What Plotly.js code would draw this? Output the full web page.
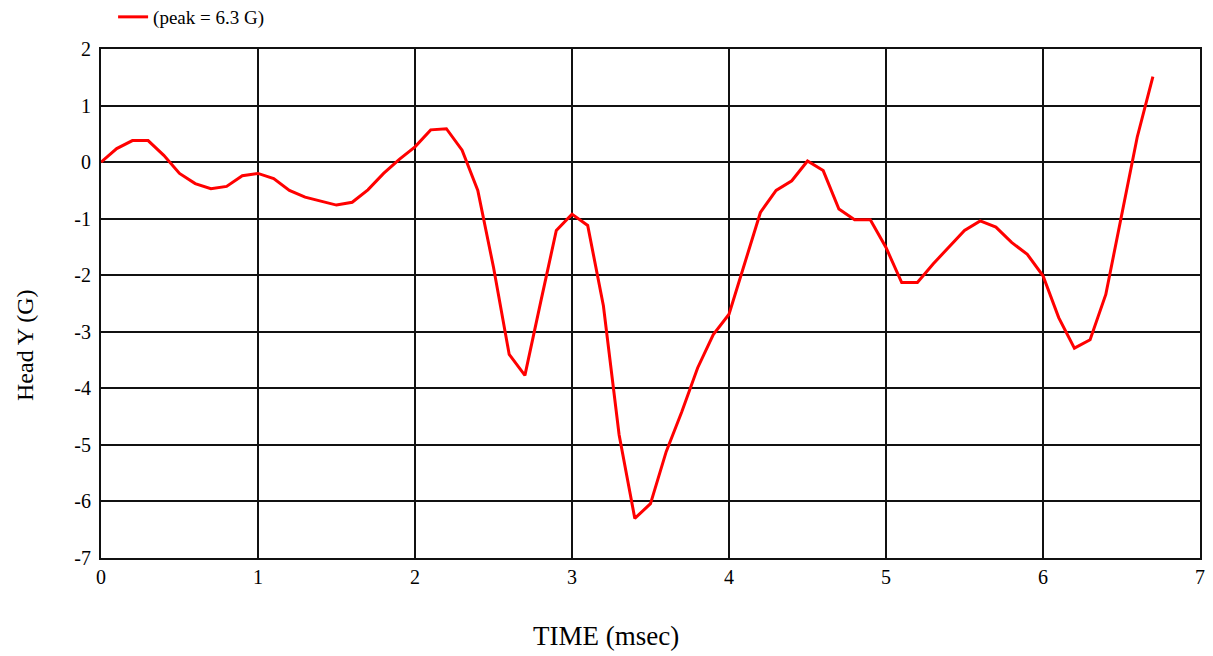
<!DOCTYPE html>
<html>
<head>
<meta charset="utf-8">
<script src="https://cdn.plot.ly/plotly-3.0.1.min.js"></script>
<style>html,body{margin:0;padding:0;background:#fff;}#chart{width:1213px;height:656px;}</style>
</head>
<body>
<div id="chart"></div>
<script>
const timeMs = [0.0,0.1,0.2,0.3,0.4,0.5,0.6,0.7,0.8,0.9,1.0,1.1,1.2,1.3,1.4,1.5,1.6,1.7,1.8,1.9,2.0,2.1,2.2,2.3,2.4,2.5,2.6,2.7,2.8,2.9,3.0,3.1,3.2,3.3,3.4,3.5,3.6,3.7,3.8,3.9,4.0,4.1,4.2,4.3,4.4,4.5,4.6,4.7,4.8,4.9,5.0,5.1,5.2,5.3,5.4,5.5,5.6,5.7,5.8,5.9,6.0,6.1,6.2,6.3,6.4,6.5,6.6,6.7];
const headY = [0.0,0.24,0.38,0.38,0.12,-0.2,-0.38,-0.47,-0.43,-0.24,-0.2,-0.29,-0.5,-0.62,-0.69,-0.76,-0.71,-0.49,-0.2,0.05,0.27,0.57,0.59,0.21,-0.5,-1.86,-3.4,-3.77,-2.48,-1.21,-0.92,-1.12,-2.54,-4.82,-6.3,-6.04,-5.12,-4.41,-3.64,-3.05,-2.69,-1.8,-0.89,-0.5,-0.33,0.02,-0.15,-0.83,-1.02,-1.02,-1.51,-2.13,-2.13,-1.8,-1.51,-1.21,-1.04,-1.15,-1.42,-1.63,-2.01,-2.75,-3.29,-3.14,-2.34,-0.98,0.44,1.51];
const seriesName = '(peak = 6.3 G)';
const xTicks = [0,1,2,3,4,5,6,7];
const yTicks = [2,1,0,-1,-2,-3,-4,-5,-6,-7];
const xTitle = 'TIME (msec)';
const yTitle = 'Head Y (G)';

const font = 'Liberation Serif, Times New Roman, serif';

Plotly.newPlot('chart', [{
  x: timeMs, y: headY, type: 'scatter', mode: 'lines', name: seriesName,
  line: {color: '#ff0000', width: 3}
}], {
  width: 1213, height: 656,
  margin: {l: 101, r: 13, t: 49, b: 98, autoexpand: false},
  paper_bgcolor: '#fff', plot_bgcolor: '#fff',
  font: {family: font, color: '#000', size: 19},
  showlegend: true,
  legend: {x: 0.011, y: (558-17)/509, xanchor: 'left', yanchor: 'middle', orientation: 'h',
           font: {family: font, size: 19, color: '#000'}, bgcolor: 'rgba(0,0,0,0)', borderwidth: 0},
  xaxis: {range: [0, 7], tickvals: xTicks, ticktext: xTicks.map(String), showgrid: true,
          gridcolor: '#111', gridwidth: 2, zeroline: false, showline: true, linecolor: '#111',
          linewidth: 2, mirror: true, ticks: '', automargin: false, tickfont: {family: font, size: 20, color: '#000'}},
  yaxis: {range: [-7, 2], tickvals: yTicks, ticktext: yTicks.map(String), showgrid: true,
          gridcolor: '#111', gridwidth: 2, zeroline: false, showline: true, linecolor: '#111',
          linewidth: 2, mirror: true, ticks: '', ticklabelstandoff: 4, automargin: false,
          tickfont: {family: font, size: 20, color: '#000'}},
  annotations: [
    {text: xTitle, xref: 'paper', yref: 'paper', x: (606-101)/1099, y: -(636-558)/509,
     xanchor: 'center', yanchor: 'middle', showarrow: false, font: {family: font, size: 27, color: '#000'}},
    {text: yTitle, xref: 'paper', yref: 'paper', x: (25-101)/1099, y: (558-345)/509,
     xanchor: 'center', yanchor: 'middle', textangle: -90, showarrow: false, font: {family: font, size: 24, color: '#000'}}
  ]
}, {displayModeBar: false, staticPlot: true});
</script>
</body>
</html>
